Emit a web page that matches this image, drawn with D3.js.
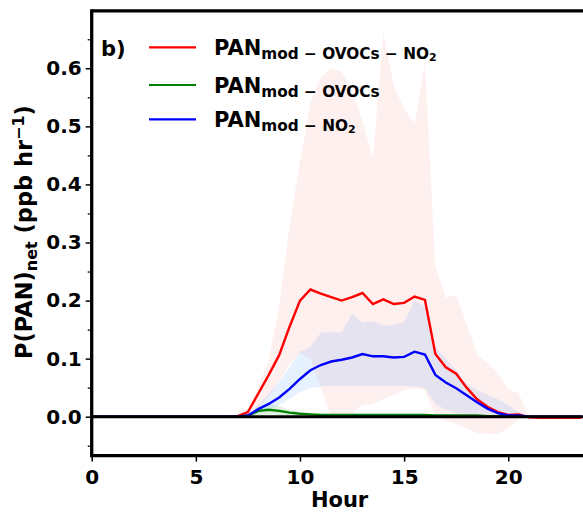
<!DOCTYPE html>
<html>
<head>
<meta charset="utf-8">
<script src="https://cdn.jsdelivr.net/npm/d3@7"></script>
<style>
  body { margin: 0; background: #fff; }
  text { font-family: "DejaVu Sans", sans-serif; font-weight: bold; fill: #000; }
</style>
</head>
<body>
<svg id="chart" width="583" height="514"></svg>
<script>
// hour of day (half-hourly)
const hours = [0, 0.5, 1, 1.5, 2, 2.5, 3, 3.5, 4, 4.5, 5, 5.5, 6, 6.5, 7, 7.5, 8, 8.5, 9, 9.5,
  10, 10.5, 11, 11.5, 12, 12.5, 13, 13.5, 14, 14.5, 15, 15.5, 16, 16.5, 17, 17.5, 18, 18.5, 19, 19.5,
  20, 20.5, 21, 21.5, 22, 22.5, 23, 23.5];

// PAN_mod - OVOCs - NO2 (red)
const redMean = [0, 0, 0, 0, 0, 0, 0, 0, 0, 0, 0, 0, 0, 0, 0.001, 0.008, 0.04, 0.072, 0.106, 0.155,
  0.2, 0.219, 0.212, 0.206, 0.2, 0.206, 0.213, 0.194, 0.202, 0.194, 0.196, 0.207, 0.201, 0.108, 0.085, 0.074, 0.05, 0.03, 0.017, 0.008,
  0.003, 0.004, -0.001, -0.002, -0.002, -0.002, -0.002, -0.002];
const redHi = [0, 0, 0, 0, 0, 0, 0, 0, 0, 0, 0, 0, 0, 0, 0.001, 0.015, 0.05, 0.1, 0.19, 0.33,
  0.44, 0.54, 0.585, 0.6, 0.595, 0.56, 0.51, 0.445, 0.663, 0.57, 0.53, 0.505, 0.61, 0.26, 0.205, 0.21, 0.16, 0.108, 0.092, 0.075,
  0.048, 0.04, 0, 0, 0, 0, 0, 0];
const redLo = [0, 0, 0, 0, 0, 0, 0, 0, 0, 0, 0, 0, 0, 0, 0, 0.002, 0.015, 0.035, 0.06, 0.09,
  0.11, 0.1, 0.05, 0, 0, 0.005, 0.02, 0.022, 0.03, 0.038, 0.045, 0.05, 0.045, 0, -0.008, -0.012, -0.02, -0.028, -0.03, -0.03,
  -0.02, -0.005, -0.002, -0.002, -0.002, -0.002, -0.002, -0.002];

// PAN_mod - OVOCs (green)
const greenMean = [0, 0, 0, 0, 0, 0, 0, 0, 0, 0, 0, 0, 0, 0, 0, 0.002, 0.01, 0.012, 0.01, 0.007,
  0.005, 0.004, 0.003, 0.003, 0.003, 0.003, 0.003, 0.003, 0.003, 0.003, 0.003, 0.003, 0.003, 0.002, 0.002, 0.002, 0.002, 0.002, 0.001, 0.001,
  0.001, 0.001, 0, 0, 0, 0, 0, 0];
const greenHi = [0, 0, 0, 0, 0, 0, 0, 0, 0, 0, 0, 0, 0, 0, 0, 0.004, 0.018, 0.022, 0.018, 0.012,
  0.008, 0.006, 0.005, 0.004, 0.004, 0.004, 0.004, 0.004, 0.004, 0.004, 0.004, 0.004, 0.004, 0.003, 0.003, 0.003, 0.003, 0.003, 0.002, 0.002,
  0.002, 0.002, 0, 0, 0, 0, 0, 0];
const greenLo = [0, 0, 0, 0, 0, 0, 0, 0, 0, 0, 0, 0, 0, 0, 0, 0, 0.003, 0.004, 0.003, 0.002,
  0.002, 0.002, 0.001, 0.001, 0.001, 0.001, 0.001, 0.001, 0.001, 0.001, 0.001, 0.001, 0.001, 0.001, 0.001, 0.001, 0.001, 0.001, 0, 0,
  0, 0, 0, 0, 0, 0, 0, 0];

// PAN_mod - NO2 (blue)
const blueMean = [0, 0, 0, 0, 0, 0, 0, 0, 0, 0, 0, 0, 0, 0, 0, 0.002, 0.013, 0.022, 0.033, 0.048,
  0.065, 0.08, 0.089, 0.095, 0.098, 0.102, 0.108, 0.104, 0.104, 0.102, 0.103, 0.112, 0.107, 0.072, 0.059, 0.049, 0.037, 0.025, 0.014, 0.006,
  0.002, 0.002, 0, 0, 0, 0, 0, 0];
const blueHi = [0, 0, 0, 0, 0, 0, 0, 0, 0, 0, 0, 0, 0, 0, 0, 0.003, 0.02, 0.04, 0.06, 0.085,
  0.112, 0.12, 0.145, 0.146, 0.145, 0.178, 0.162, 0.165, 0.156, 0.158, 0.163, 0.2, 0.19, 0.12, 0.1, 0.08, 0.055, 0.046, 0.038, 0.03,
  0.02, 0.008, 0, 0, 0, 0, 0, 0];
const blueLo = [0, 0, 0, 0, 0, 0, 0, 0, 0, 0, 0, 0, 0, 0, 0, 0.001, 0.006, 0.012, 0.02, 0.03,
  0.042, 0.05, 0.052, 0.053, 0.053, 0.053, 0.053, 0.053, 0.053, 0.053, 0.053, 0.052, 0.05, 0.022, 0.012, 0.006, 0.004, 0.003, 0.002, 0.001,
  0, 0, 0, 0, 0, 0, 0, 0];

const xTicks = [0, 5, 10, 15, 20];
const yTicks = [0, 0.1, 0.2, 0.3, 0.4, 0.5, 0.6];
const yMinor = [-0.05, 0.05, 0.15, 0.25, 0.35, 0.45, 0.55, 0.65];

const svg = d3.select("#chart");

// scales (x axis runs to 24 h, right side is cut by the picture)
const x = d3.scaleLinear().domain([0, 24]).range([91.7, 591.6]);
const y = d3.scaleLinear().domain([0, 0.6]).range([416.7, 68.3]);
const yBot = y(-0.067), yTop = y(0.699);

svg.append("clipPath").attr("id", "plotclip")
  .append("rect")
  .attr("x", x(0)).attr("y", yTop)
  .attr("width", x(24) - x(0)).attr("height", yBot - yTop);

const plot = svg.append("g").attr("clip-path", "url(#plotclip)");

// shaded ranges
function band(lo, hi) {
  return d3.area()
    .x((d, i) => x(hours[i]))
    .y0((d, i) => y(lo[i]))
    .y1((d, i) => y(hi[i]))(hours);
}
plot.append("path").attr("d", band(redLo, redHi)).attr("fill", "red").attr("fill-opacity", 0.06);
plot.append("path").attr("d", band(greenLo, greenHi)).attr("fill", "green").attr("fill-opacity", 0.12);
plot.append("path").attr("d", band(blueLo, blueHi)).attr("fill", "#1e7fff").attr("fill-opacity", 0.11);

// mean lines
const line = d3.line().x((d, i) => x(hours[i])).y(d => y(d));
plot.append("path").attr("d", line(redMean)).attr("fill", "none").attr("stroke", "#ff0000").attr("stroke-width", 2.4);
plot.append("path").attr("d", line(greenMean)).attr("fill", "none").attr("stroke", "#008000").attr("stroke-width", 2.4);
plot.append("path").attr("d", line(blueMean)).attr("fill", "none").attr("stroke", "#0000ff").attr("stroke-width", 2.4);

// zero line
plot.append("line")
  .attr("x1", x(0)).attr("x2", x(24))
  .attr("y1", y(0)).attr("y2", y(0))
  .attr("stroke", "#000").attr("stroke-width", 3);

// y axis
const yAxis = svg.append("g")
  .attr("transform", "translate(" + x(0) + ",0)")
  .call(d3.axisLeft(y).tickValues(yTicks).tickFormat(d3.format(".1f")).tickSize(6).tickPadding(4));
yAxis.select(".domain").remove();
yAxis.selectAll(".tick line").attr("stroke-width", 1.5);
yAxis.selectAll("text").style("font-size", "20px");

const yAxisMinor = svg.append("g")
  .attr("transform", "translate(" + x(0) + ",0)")
  .call(d3.axisLeft(y).tickValues(yMinor).tickFormat("").tickSize(4));
yAxisMinor.select(".domain").remove();
yAxisMinor.selectAll(".tick line").attr("stroke-width", 1.2);

// x axis
const xAxis = svg.append("g")
  .attr("transform", "translate(0," + yBot + ")")
  .call(d3.axisBottom(x).tickValues(xTicks).tickSize(6).tickPadding(8));
xAxis.select(".domain").remove();
xAxis.selectAll(".tick line").attr("stroke-width", 1.5);
xAxis.selectAll("text").style("font-size", "20px");

// spines
svg.append("line").attr("x1", x(0)).attr("x2", x(0)).attr("y1", yTop - 1.6).attr("y2", yBot + 1.6)
  .attr("stroke", "#000").attr("stroke-width", 3.3);
svg.append("line").attr("x1", x(0)).attr("x2", x(24)).attr("y1", yTop).attr("y2", yTop)
  .attr("stroke", "#000").attr("stroke-width", 3.3);
svg.append("line").attr("x1", x(0)).attr("x2", x(24)).attr("y1", yBot).attr("y2", yBot)
  .attr("stroke", "#000").attr("stroke-width", 3.3);

// axis titles
svg.append("text")
  .attr("x", x(11.9)).attr("y", 507)
  .attr("text-anchor", "middle")
  .style("font-size", "21px")
  .text("Hour");

const yl = svg.append("text")
  .attr("transform", "translate(32,232) rotate(-90)")
  .attr("text-anchor", "middle")
  .style("font-size", "22.5px");
yl.append("tspan").text("P(PAN)");
yl.append("tspan").attr("dy", 4.5).style("font-size", "16px").text("net");
yl.append("tspan").attr("dy", -4.5).text(" (ppb hr");
yl.append("tspan").attr("dy", -8.5).style("font-size", "16px").text("\u22121");
yl.append("tspan").attr("dy", 8.5).text(")");

// panel letter
svg.append("text").attr("x", 101).attr("y", 55.5).style("font-size", "21px").text("b)");

// legend
const legNames = ["mod \u2212 OVOCs \u2212 NO", "mod \u2212 OVOCs", "mod \u2212 NO"];
const legSub2 = [true, false, true];
const legColors = ["#ff0000", "#008000", "#0000ff"];
const legY = [47.3, 85, 119.3];

legNames.forEach(function (name, i) {
  svg.append("line")
    .attr("x1", 149).attr("x2", 196)
    .attr("y1", legY[i]).attr("y2", legY[i])
    .attr("stroke", legColors[i]).attr("stroke-width", 2.2);
  const t = svg.append("text")
    .attr("x", 214).attr("y", legY[i] + 8)
    .style("font-size", "21px");
  t.append("tspan").text("PAN");
  t.append("tspan").attr("dy", 3.5).style("font-size", "15.3px").text(name);
  if (legSub2[i]) {
    t.append("tspan").attr("dy", 2.5).style("font-size", "11px").text("2");
  }
});
</script>
</body>
</html>
